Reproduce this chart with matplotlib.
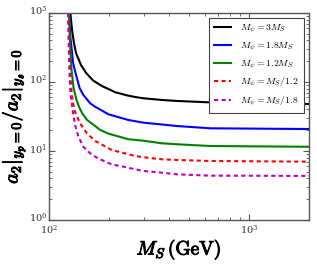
import matplotlib
matplotlib.use("Agg")
import matplotlib.pyplot as plt
import matplotlib.patheffects as pe
from matplotlib.transforms import ScaledTranslation

plt.rcParams['mathtext.fontset'] = 'cm'
plt.rcParams['font.family'] = ['DejaVu Serif']

# Data (M_S in GeV, ratio a2|yp=0 / a2|ys=0)
black_m = [127.9, 130.4, 133.0, 136.6, 144.7, 153.3, 166.2, 184.4, 202.2, 214.2, 245.2, 269.9, 297.0, 367.0, 436.0, 617.0, 1017.0, 2000.0]
black_v = [1000, 567, 380, 260, 175, 135, 105, 87, 77, 71, 64, 60.5, 58.0, 54.8, 53.1, 50.8, 49.1, 48.0]

blue_m = [126.4, 127.9, 130.0, 131.9, 136.6, 142.2, 148.5, 160.6, 170.1, 198.3, 249.7, 297.0, 367.0, 436.0, 641.0, 2000.0]
blue_v = [1000, 449, 291, 189, 126, 81.8, 64.9, 49.1, 43.8, 34.0, 28.1, 25.7, 24.2, 23.0, 21.3, 20.8]

green_m = [126.0, 127.4, 129.7, 132.7, 137.3, 141.4, 146.3, 155.1, 170.1, 180.2, 197.6, 248.9, 296.0, 368.5, 438.0, 641.0, 2000.0]
green_v = [1000, 344, 149, 81.8, 54.8, 43.4, 35.5, 28.1, 23.0, 20.2, 17.9, 14.8, 14.1, 12.9, 12.5, 11.8, 11.5]

red_m = [125.2, 126.4, 127.8, 129.7, 131.9, 135.0, 143.0, 154.5, 170.1, 206.3, 269.9, 297.0, 367.0, 436.0, 641.0, 2000.0]
red_v = [1000, 344, 126, 71.6, 49.6, 36.7, 25.2, 18.1, 14.0, 10.3, 8.47, 8.11, 7.58, 7.41, 7.16, 7.0]

mag_m = [124.5, 125.5, 126.7, 128.2, 130.0, 131.9, 135.0, 140.3, 148.5, 160.6, 170.1, 180.2, 206.3, 227.0, 269.9, 297.0, 367.0, 436.0, 641.0, 2000.0]
mag_v = [1000, 344, 126, 64.9, 49.1, 35.5, 23.8, 16.1, 11.5, 9.26, 8.27, 7.58, 6.37, 6.06, 5.43, 5.13, 4.85, 4.59, 4.39, 4.35]

labels = [r'$M_\psi = 3M_S$', r'$M_\psi = 1.8M_S$', r'$M_\psi = 1.2M_S$',
          r'$M_\psi = M_S/1.2$', r'$M_\psi = M_S/1.8$']

fig = plt.figure(figsize=(3.17, 2.64), dpi=100)
ax = fig.add_axes([0.1546, 0.1667, 0.8204, 0.7843])

lw = 1.5
ax.plot(black_m, black_v, color='black', lw=lw, label=labels[0])
ax.plot(blue_m, blue_v, color='blue', lw=lw, label=labels[1])
ax.plot(green_m, green_v, color='green', lw=lw, label=labels[2])
ax.plot(red_m, red_v, color='red', lw=lw, ls='--', dashes=(2, 1.6), label=labels[3])
ax.plot(mag_m, mag_v, color='m', lw=lw, ls='--', dashes=(2, 1.6), label=labels[4])

ax.set_xscale('log')
ax.set_yscale('log')
ax.set_xlim(100, 2000)
ax.set_ylim(1, 1000)

for sp in ax.spines.values():
    sp.set_color('#555555')
    sp.set_linewidth(1.0)
ax.tick_params(which='both', direction='in', top=True, right=True, colors='#555555',
               labelsize=7, labelcolor='#333333')
ax.tick_params(which='major', length=4)
ax.tick_params(which='minor', length=2)
ax.tick_params(axis='x', pad=2.5)
ax.tick_params(axis='y', pad=1.5)

bold = [pe.withStroke(linewidth=0.7, foreground='black')]
xl = ax.set_xlabel(r'$M_S\,(\mathrm{GeV})$', fontsize=14, labelpad=1)
yl = ax.set_ylabel(r'$a_2|_{y_p=0}/a_2|_{y_s=0}$', fontsize=14.5, labelpad=1)
xl.set_path_effects(bold)
yl.set_path_effects(bold)

leg = ax.legend(loc='upper right', fontsize=7, fancybox=False, framealpha=1,
                edgecolor='#444444', handlelength=1.7, borderpad=0.5,
                labelspacing=0.55, handletextpad=1.0, borderaxespad=0.55)
leg.get_frame().set_linewidth(0.8)

fig.canvas.draw()
shift = ScaledTranslation(0, 3.0 / 100, fig.dpi_scale_trans)
for t in ax.yaxis.get_major_ticks():
    t.label1.set_transform(t.label1.get_transform() + shift)

fig.savefig('out.png', dpi=100)
